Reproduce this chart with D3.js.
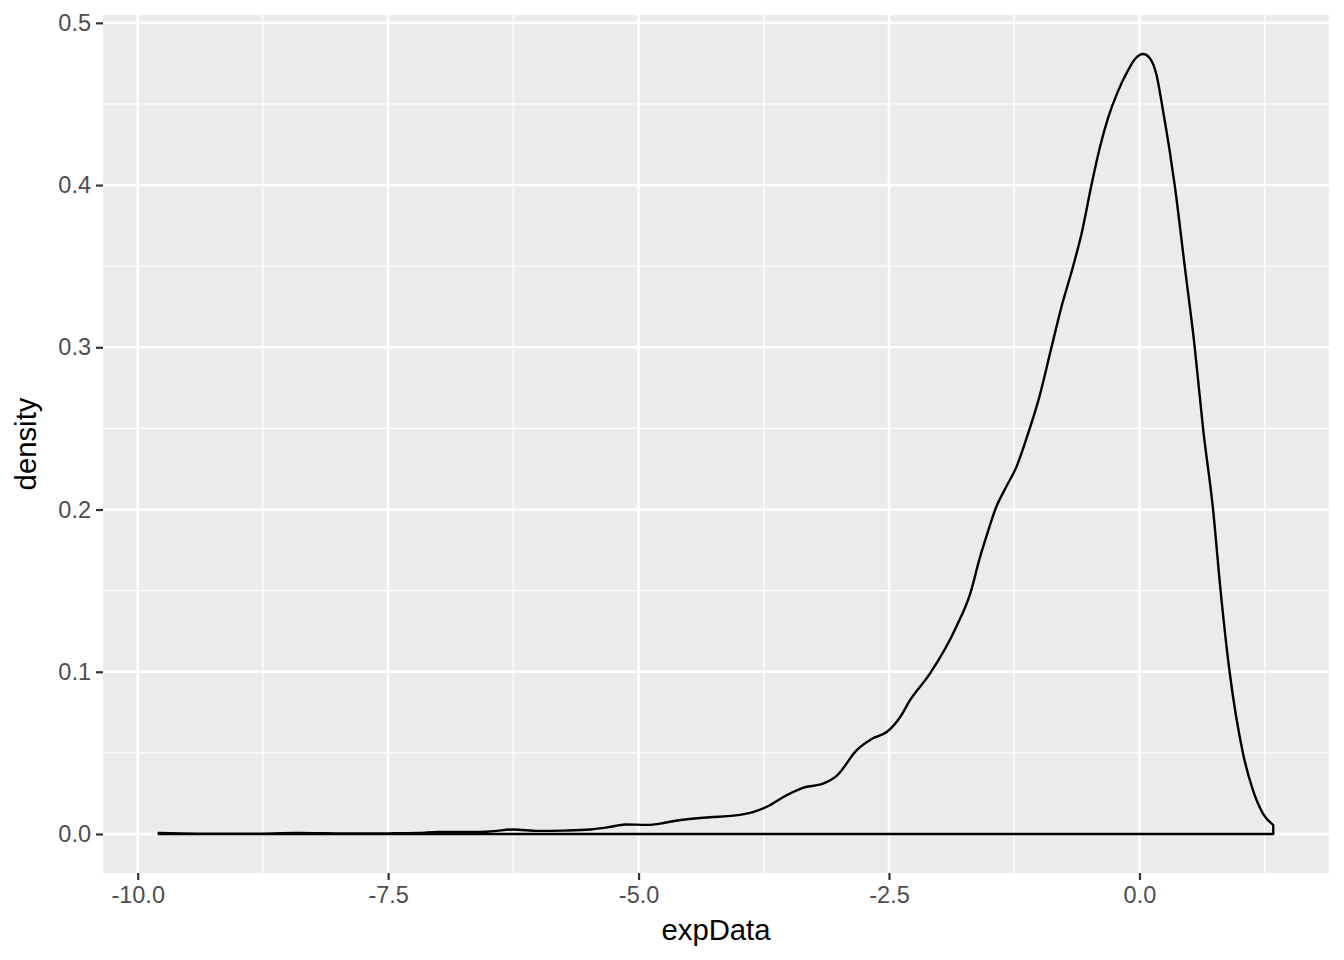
<!DOCTYPE html>
<html>
<head>
<meta charset="utf-8">
<script src="https://cdn.jsdelivr.net/npm/d3@7"></script>
<style>
  body { margin: 0; background: #fff; }
  svg text { font-family: "Liberation Sans", Arial, Helvetica, sans-serif; }
</style>
</head>
<body>
<div id="main"></div>
<script>
// density estimate
const densityX = [-9.79, -9.4, -8.9, -8.4, -7.9, -7.5, -7.2, -7.0, -6.7, -6.45, -6.25, -6.0, -5.75, -5.48, -5.3,
  -5.13, -4.92, -4.75, -4.63, -4.29, -4.05, -3.85, -3.72, -3.52, -3.36, -3.16, -3.02, -2.82, -2.66, -2.52,
  -2.39, -2.29, -2.09, -1.83, -1.69, -1.59, -1.53, -1.43, -1.33, -1.23, -1.09, -1.01, -0.878, -0.778, -0.662,
  -0.578, -0.479, -0.396, -0.31, -0.22, -0.12, -0.04, 0.036, 0.10, 0.17, 0.235, 0.302, 0.352, 0.452, 0.552, 0.635,
  0.735, 0.81, 0.90, 1.033, 1.133, 1.233, 1.336];
const densityY = [0.0006, 0.0002, 0.0002, 0.0006, 0.0003, 0.0004, 0.0006, 0.0013, 0.0012, 0.0018, 0.0028, 0.0019, 0.0021, 0.0028, 0.0042,
  0.0059, 0.0056, 0.0068, 0.0082, 0.0103, 0.0113, 0.0137, 0.0168, 0.0240, 0.0285, 0.0310, 0.0360, 0.0518, 0.0590, 0.0630,
  0.0720, 0.0825, 0.0990, 0.1275, 0.1480, 0.1710, 0.1830, 0.2015, 0.2140, 0.2260, 0.2510, 0.2670, 0.3000, 0.3250, 0.3500,
  0.3700, 0.4000, 0.4230, 0.4420, 0.4570, 0.4700, 0.4780, 0.4808, 0.4785, 0.4680, 0.4460, 0.4210, 0.4000, 0.3500, 0.3000, 0.2500,
  0.2000, 0.1500, 0.1000, 0.0500, 0.0270, 0.0126, 0.0055];

const xTicks = [-10, -7.5, -5, -2.5, 0];
const xMinor = [-8.75, -6.25, -3.75, -1.25, 1.25];
const yTicks = [0, 0.1, 0.2, 0.3, 0.4, 0.5];
const yMinor = [0.05, 0.15, 0.25, 0.35, 0.45];

const w = 1344, h = 960;
const m = {left: 103, top: 15, right: 15, bottom: 87};
const pw = w - m.left - m.right;
const ph = h - m.top - m.bottom;

const data = densityX.map((x, i) => ({x: x, y: densityY[i]}));

// ggplot style 5% expansion
const [xMin, xMax] = d3.extent(densityX);
const xPad = (xMax - xMin) * 0.05;
const yMax = d3.max(densityY);
const yPad = yMax * 0.05;

const x = d3.scaleLinear().domain([xMin - xPad, xMax + xPad]).range([0, pw]);
const y = d3.scaleLinear().domain([-yPad, yMax + yPad]).range([ph, 0]);

// plain hyphen minus like R does
const fmt = d => d3.format('.1f')(d).replace('\u2212', '-');

const svg = d3.select('#main')
  .append('svg')
  .attr('width', w)
  .attr('height', h);

const g = svg.append('g')
  .attr('transform', `translate(${m.left},${m.top})`);

g.append('rect')
  .attr('width', pw)
  .attr('height', ph)
  .attr('fill', '#EBEBEB');

// grid
g.selectAll('.xminor').data(xMinor).enter().append('line')
  .attr('x1', d => x(d)).attr('x2', d => x(d))
  .attr('y1', 0).attr('y2', ph)
  .attr('stroke', '#fff').attr('stroke-width', 1.3);
g.selectAll('.yminor').data(yMinor).enter().append('line')
  .attr('y1', d => y(d)).attr('y2', d => y(d))
  .attr('x1', 0).attr('x2', pw)
  .attr('stroke', '#fff').attr('stroke-width', 1.3);
g.selectAll('.xmajor').data(xTicks).enter().append('line')
  .attr('x1', d => x(d)).attr('x2', d => x(d))
  .attr('y1', 0).attr('y2', ph)
  .attr('stroke', '#fff').attr('stroke-width', 2.5);
g.selectAll('.ymajor').data(yTicks).enter().append('line')
  .attr('y1', d => y(d)).attr('y2', d => y(d))
  .attr('x1', 0).attr('x2', pw)
  .attr('stroke', '#fff').attr('stroke-width', 2.5);

// density outline (closed polygon like geom_density)
const area = d3.area()
  .x(d => x(d.x))
  .y0(y(0))
  .y1(d => y(d.y))
  .curve(d3.curveMonotoneX);

g.append('path')
  .datum(data)
  .attr('d', area)
  .attr('fill', 'none')
  .attr('stroke', '#000')
  .attr('stroke-width', 2.4)
  .attr('stroke-linejoin', 'round');

// axes
const xAxis = d3.axisBottom(x)
  .tickValues(xTicks)
  .tickFormat(fmt)
  .tickSize(7)
  .tickPadding(5);
const yAxis = d3.axisLeft(y)
  .tickValues(yTicks)
  .tickFormat(fmt)
  .tickSize(7)
  .tickPadding(5);

const gx = g.append('g').attr('transform', `translate(0,${ph})`).call(xAxis);
const gy = g.append('g').call(yAxis);

[gx, gy].forEach(a => {
  a.select('.domain').remove();
  a.selectAll('.tick line').attr('stroke', '#333333').attr('stroke-width', 2.2);
  a.selectAll('.tick text')
    .attr('fill', '#4D4D4D')
    .style('font-size', '23.5px')
    .style('font-family', '"Liberation Sans", Arial, Helvetica, sans-serif');
});
gx.selectAll('.tick text').attr('dy', '0.78em');

svg.append('text')
  .attr('x', m.left + pw / 2)
  .attr('y', 940)
  .attr('text-anchor', 'middle')
  .style('font-size', '29.3px')
  .attr('fill', '#000')
  .text('expData');

svg.append('text')
  .attr('transform', `translate(36,${m.top + ph / 2}) rotate(-90)`)
  .attr('text-anchor', 'middle')
  .style('font-size', '29.3px')
  .attr('fill', '#000')
  .text('density');
</script>
</body>
</html>
